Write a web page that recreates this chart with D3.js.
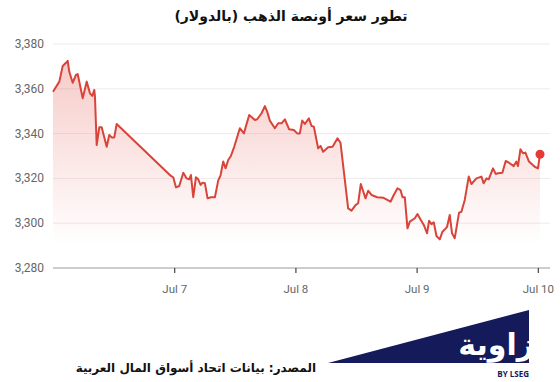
<!DOCTYPE html>
<html>
<head>
<meta charset="utf-8">
<script src="https://cdn.jsdelivr.net/npm/d3@7/dist/d3.min.js"></script>
<style>
  body { margin: 0; background: #fff; }
  svg { display: block; font-family: Roboto, 'Noto Sans', sans-serif; }
  .ar { font-family: 'DejaVu Sans', sans-serif; direction: rtl; }
</style>
</head>
<body>
<svg id="chart" width="560" height="382"></svg>
<script>
// hours since Jul 6 00:00 (UTC) and gold price in USD
const hours = [
  0, 1.25, 1.92, 2.57, 2.91, 3.23, 3.9, 4.55, 4.89, 5.88, 6.67, 7.32, 7.78, 8.17, 8.31,
  8.65, 9.16, 9.64, 10.63, 11.14, 11.62, 12.13, 12.61,
  23.35, 23.81, 24.34, 25.0, 25.8, 26.46, 26.97, 27.31, 27.77, 28.3, 28.75, 29.23, 29.63,
  30.08, 30.61, 31.27, 32.06, 32.71, 33.19, 33.7, 34.18, 34.69, 35.22, 35.88, 37.0, 37.8,
  38.85, 39.97, 40.43, 41.3, 41.95, 42.41, 42.94, 43.93, 44.59, 45.26, 45.91, 46.76, 47.69,
  48.35, 48.88, 49.34, 49.87, 50.66, 51.2, 51.65, 52.5, 52.98, 53.49, 54.48, 55.35, 56.34,
  56.93, 58.44, 59.11, 59.9, 60.42, 60.95, 61.88, 62.4, 63.07, 64.18, 65.37, 66.83, 67.48,
  68.22, 68.81, 69.21, 69.66, 70.19, 70.65, 71.64, 72.17, 72.77, 73.42, 74.07, 74.47, 74.94,
  75.4, 75.93, 76.58, 77.12, 77.77, 78.03, 78.56, 79.01, 79.55, 80.4, 80.87, 81.53, 82.32,
  82.85, 83.84, 84.83, 85.28, 85.82, 86.27, 87.12, 87.66, 88.11, 88.98, 89.64, 90.29, 91.22,
  91.76, 92.07, 92.55, 93.06, 93.54, 94.25, 95.38, 96.03, 96.43
];
const prices = [
  3358.7, 3363.2, 3370.2, 3371.6, 3372.5, 3367.6, 3362.7, 3366.2, 3366.6, 3355.8, 3363.2, 3358.0, 3356.8, 3359.5, 3356.5,
  3334.9, 3342.8, 3342.8, 3334.1, 3339.4, 3338.3, 3338.3, 3344.3,
  3321.1, 3320.5, 3316.0, 3316.6, 3322.5, 3320.0, 3319.6, 3321.5, 3311.6, 3320.5, 3319.6, 3317.1, 3318.1,
  3317.8, 3311.1, 3311.6, 3311.6, 3319.0, 3321.5, 3327.5, 3324.5, 3328.2, 3330.0, 3334.1, 3342.4, 3340.1,
  3348.3, 3346.1, 3346.4, 3349.1, 3352.3, 3349.8, 3345.8, 3342.4, 3344.6, 3344.6, 3346.4, 3341.9, 3341.6,
  3340.1, 3340.1, 3345.8, 3344.3, 3346.8, 3343.4, 3343.1, 3333.4, 3334.5, 3331.9, 3333.9, 3334.1, 3337.9,
  3335.9, 3306.6, 3305.6, 3308.1, 3308.9, 3317.5, 3311.1, 3314.5, 3312.6, 3311.6, 3311.4, 3309.6, 3312.6,
  3315.6, 3314.8, 3311.6, 3311.6, 3297.7, 3300.7, 3302.2, 3304.1, 3301.7, 3299.2, 3295.5, 3301.1, 3299.6,
  3300.4, 3294.3, 3292.8, 3296.2, 3297.7, 3298.4, 3303.7, 3295.5, 3293.3, 3304.7, 3305.1, 3310.4, 3320.8,
  3317.5, 3320.0, 3320.8, 3317.8, 3320.0, 3319.6, 3324.5, 3322.0, 3322.3, 3322.5, 3327.8, 3327.0, 3325.5,
  3327.5, 3325.5, 3333.0, 3331.2, 3331.5, 3327.5, 3325.2, 3324.5, 3330.8
];
const yTicks = [3280, 3300, 3320, 3340, 3360, 3380];
const xTickDays = ['2025-07-07', '2025-07-08', '2025-07-09', '2025-07-10'];

const title = 'تطور سعر أونصة الذهب (بالدولار)';
const source = 'المصدر: بيانات اتحاد أسواق المال العربية';

const start = Date.UTC(2025, 6, 6);
const data = hours.map((h, i) => ({ t: new Date(start + h * 3600e3), v: prices[i] }));

const svg = d3.select('#chart');
const plot = { left: 53, right: 540, top: 44, bottom: 268, gridEnd: 550 };

const x = d3.scaleUtc()
  .domain(d3.extent(data, d => d.t))
  .range([plot.left, plot.right]);
const y = d3.scaleLinear()
  .domain([3280, 3380])
  .range([plot.bottom, plot.top]);

// title
svg.append('text')
  .attr('class', 'ar')
  .attr('x', 291).attr('y', 21)
  .attr('text-anchor', 'middle')
  .attr('font-size', 14).attr('font-weight', 'bold')
  .attr('fill', '#111')
  .text(title);

// grid
svg.append('g')
  .selectAll('line')
  .data(yTicks.slice(1))
  .join('line')
  .attr('x1', plot.left).attr('x2', plot.gridEnd)
  .attr('y1', d => y(d)).attr('y2', d => y(d))
  .attr('stroke', '#ececec');

// y labels
svg.append('g')
  .selectAll('text')
  .data(yTicks)
  .join('text')
  .attr('x', 44).attr('y', d => y(d) + 4)
  .attr('text-anchor', 'end')
  .attr('font-size', 12).attr('fill', '#666')
  .text(d3.format(','));

// area + line
const defs = svg.append('defs');
const grad = defs.append('linearGradient')
  .attr('id', 'fade')
  .attr('gradientUnits', 'userSpaceOnUse')
  .attr('x1', 0).attr('x2', 0)
  .attr('y1', 60).attr('y2', 245);
grad.append('stop').attr('offset', 0).attr('stop-color', '#e0453b').attr('stop-opacity', 0.28);
grad.append('stop').attr('offset', 1).attr('stop-color', '#e0453b').attr('stop-opacity', 0);

const area = d3.area()
  .x(d => x(d.t))
  .y0(plot.bottom)
  .y1(d => y(d.v));
const line = d3.line()
  .x(d => x(d.t))
  .y(d => y(d.v));

svg.append('path')
  .datum(data)
  .attr('d', area)
  .attr('fill', 'url(#fade)');

svg.append('path')
  .datum(data)
  .attr('d', line)
  .attr('fill', 'none')
  .attr('stroke', '#d9443a')
  .attr('stroke-width', 2)
  .attr('stroke-linejoin', 'round');

const last = data[data.length - 1];
svg.append('circle')
  .attr('cx', x(last.t)).attr('cy', y(last.v))
  .attr('r', 4.5)
  .attr('fill', '#e53a35');

// x axis
const xAxis = d3.axisBottom(x)
  .tickValues(xTickDays.map(s => new Date(s + 'T00:00:00Z')))
  .tickFormat(d3.utcFormat('%b %-d'))
  .tickSize(5)
  .tickSizeOuter(0);
const gx = svg.append('g')
  .attr('transform', `translate(0,${plot.bottom})`)
  .call(xAxis);
gx.select('.domain').remove();
gx.insert('line', ':first-child')
  .attr('x1', plot.left).attr('x2', plot.gridEnd)
  .attr('stroke', '#9a9a9a');
gx.selectAll('.tick line').attr('stroke', '#444').attr('stroke-width', 1.2);
gx.selectAll('.tick text')
  .attr('y', 17)
  .attr('font-family', 'Roboto, sans-serif')
  .attr('font-size', 11.5)
  .attr('fill', '#666');

// source line
svg.append('text')
  .attr('class', 'ar')
  .attr('x', 316).attr('y', 372)
  .attr('text-anchor', 'start')
  .attr('font-size', 12).attr('font-weight', 'bold')
  .attr('fill', '#111')
  .text(source);

// logo
const navy = '#141a5a';
const tri = [[328, 363], [529, 310], [529, 363]];
defs.append('clipPath').attr('id', 'tri')
  .append('polygon').attr('points', tri.join(' '));
svg.append('polygon')
  .attr('points', tri.join(' '))
  .attr('fill', navy);
svg.append('text')
  .attr('clip-path', 'url(#tri)')
  .attr('x', 534).attr('y', 355)
  .attr('text-anchor', 'end')
  .attr('font-family', 'DejaVu Sans, sans-serif')
  .attr('font-size', 30).attr('font-weight', 'bold')
  .attr('fill', '#fff')
  .text('زاوية');
svg.append('text')
  .attr('x', 529).attr('y', 377)
  .attr('text-anchor', 'end')
  .attr('font-family', 'Open Sans, sans-serif')
  .attr('font-size', 8).attr('font-weight', 'bold')
  .attr('fill', navy)
  .text('BY LSEG');
</script>
</body>
</html>
